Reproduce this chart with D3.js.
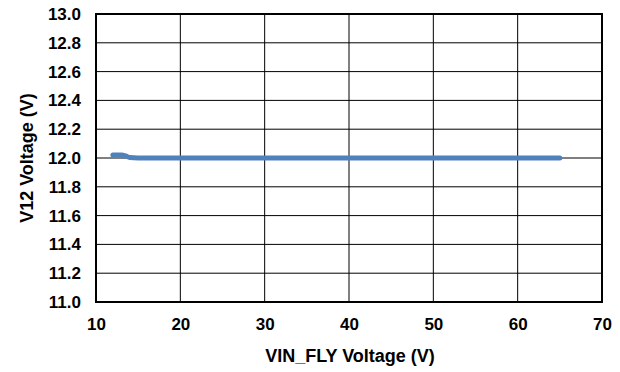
<!DOCTYPE html>
<html><head><meta charset="utf-8">
<script src="https://cdn.jsdelivr.net/npm/d3@7"></script>
<style>body{margin:0;background:#fff;}svg{display:block;font-family:"Liberation Sans",Arial,sans-serif;font-weight:bold;}</style>
</head><body><svg id="c" width="620" height="372"></svg>
<script>
const vin = [12, 13, 13.5, 14, 15, 20, 25, 30, 35, 40, 45, 50, 55, 60, 65];
const v12 = [12.02, 12.02, 12.015, 12.003, 12.0, 12.0, 12.0, 12.0, 12.0, 12.0, 12.0, 12.0, 12.0, 12.0, 12.0];
const xTicks = [10, 20, 30, 40, 50, 60, 70];
const yTicks = [11.0, 11.2, 11.4, 11.6, 11.8, 12.0, 12.2, 12.4, 12.6, 12.8, 13.0];
const xTitle = "VIN_FLY Voltage (V)";
const yTitle = "V12 Voltage (V)";

const svg = d3.select("#c");
const L = 96, R = 602, T = 14, B = 302;
const x = d3.scaleLinear().domain([10, 70]).range([L, R]);
const y = d3.scaleLinear().domain([11, 13]).range([B, T]);

const g = svg.append("g");
g.selectAll(".gx").data(xTicks).join("line")
  .attr("x1", d => x(d)).attr("x2", d => x(d)).attr("y1", T).attr("y2", B)
  .attr("stroke", "#000").attr("stroke-width", 1);
g.selectAll(".gy").data(yTicks).join("line")
  .attr("y1", d => y(d)).attr("y2", d => y(d)).attr("x1", L).attr("x2", R)
  .attr("stroke", "#000").attr("stroke-width", 1);
g.append("rect").attr("x", L).attr("y", T).attr("width", R - L).attr("height", B - T)
  .attr("fill", "none").attr("stroke", "#000").attr("stroke-width", 2);

const xa = svg.append("g").attr("transform", `translate(0,${B})`)
  .call(d3.axisBottom(x).tickValues(xTicks).tickSize(0).tickFormat(d3.format("d")));
const ya = svg.append("g").attr("transform", `translate(${L},0)`)
  .call(d3.axisLeft(y).tickValues(yTicks).tickSize(0).tickPadding(15).tickFormat(d3.format(".1f")));
[xa, ya].forEach(a => {
  a.select(".domain").remove();
  a.selectAll("text").attr("font-family", "Liberation Sans, Arial, sans-serif")
    .attr("font-weight", "bold").attr("font-size", 17).attr("fill", "#000");
});
xa.selectAll("text").attr("y", 28).attr("dy", 0);

svg.append("path").datum(vin.map((d, i) => [d, v12[i]]))
  .attr("d", d3.line().x(d => x(d[0])).y(d => y(d[1])).curve(d3.curveMonotoneX))
  .attr("fill", "none").attr("stroke", "#4F81BD").attr("stroke-width", 5)
  .attr("stroke-linecap", "round").attr("stroke-linejoin", "round");

svg.append("text").attr("x", (L + R) / 2 + 1).attr("y", 362).attr("text-anchor", "middle")
  .attr("font-size", 18).attr("fill", "#000").text(xTitle);
svg.append("text").attr("transform", `translate(33,${(T + B) / 2}) rotate(-90)`)
  .attr("text-anchor", "middle").attr("font-size", 18).attr("fill", "#000").text(yTitle);
</script></body></html>
